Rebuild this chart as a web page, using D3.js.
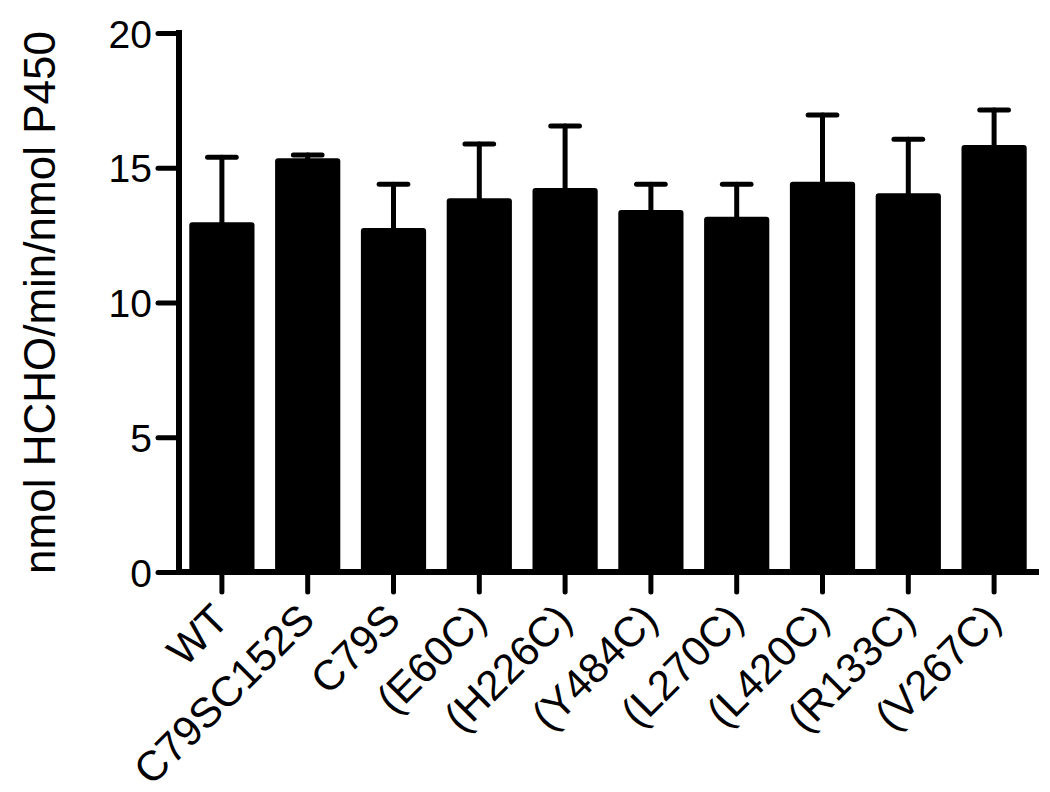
<!DOCTYPE html>
<html><head>
<meta charset="UTF-8">
<style>
  body { margin:0; background:#fff; }
  svg { display:block; font-family: 'Liberation Sans', Arial, sans-serif; }
</style>
</head><body>
<svg id="chart" width="1050" height="792"></svg>
<script src="https://cdn.jsdelivr.net/npm/d3@7/dist/d3.min.js"></script>
<script>
// values
const categories = ['WT', 'C79SC152S', 'C79S', '(E60C)', '(H226C)', '(Y484C)', '(L270C)', '(L420C)', '(R133C)', '(V267C)'];
const means = [12.98, 15.35, 12.76, 13.87, 14.25, 13.43, 13.18, 14.48, 14.05, 15.84];
const errors = [2.41, 0.12, 1.63, 2.01, 2.30, 0.96, 1.21, 2.48, 2.01, 1.30];
const yTicks = [0, 5, 10, 15, 20];
const yTitle = 'nmol HCHO/min/nmol P450';

const svg = d3.select('#chart');

const x = d3.scaleBand().domain(categories).range([179, 1037]).paddingInner(0.24).paddingOuter(0.12);
const y = d3.scaleLinear().domain([0, 20]).range([572, 33]);

const rows = categories.map((c, i) => ({ c, m: means[i], e: errors[i] }));

// error bars (upper only)
const eb = svg.append('g').attr('stroke', '#000').attr('stroke-linecap', 'round');
eb.selectAll('line.stem').data(rows).join('line').attr('class', 'stem')
  .attr('x1', d => x(d.c) + x.bandwidth() / 2).attr('x2', d => x(d.c) + x.bandwidth() / 2)
  .attr('y1', d => y(d.m)).attr('y2', d => y(d.m + d.e))
  .attr('stroke-width', 5);
eb.selectAll('line.cap').data(rows).join('line').attr('class', 'cap')
  .attr('x1', d => x(d.c) + x.bandwidth() * 0.28).attr('x2', d => x(d.c) + x.bandwidth() * 0.72)
  .attr('y1', d => y(d.m + d.e)).attr('y2', d => y(d.m + d.e))
  .attr('stroke-width', 5);

// bars
svg.append('g').selectAll('rect').data(rows).join('rect')
  .attr('x', d => x(d.c)).attr('width', x.bandwidth())
  .attr('y', d => y(d.m)).attr('height', d => y(0) - y(d.m) + 2)
  .attr('rx', 3).attr('fill', '#000');

// y axis
const yAxis = svg.append('g').attr('transform', 'translate(179,0)')
  .call(d3.axisLeft(y).tickValues(yTicks).tickSize(21).tickPadding(6).tickFormat(d3.format('d')));
yAxis.select('.domain').attr('d', `M0,${y(20)}V${y(0)}`).attr('stroke-width', 6).attr('stroke-linecap', 'square');
yAxis.selectAll('.tick line').attr('stroke-width', 5).attr('stroke-linecap', 'round');
yAxis.selectAll('.tick text').attr('font-size', 39).attr('fill', '#000').attr('dy', '0.36em');

// x axis
const xAxis = svg.append('g').attr('transform', `translate(0,${y(0)})`)
  .call(d3.axisBottom(x).tickSize(20).tickFormat(''));
xAxis.select('.domain').attr('d', 'M179,0H1036').attr('stroke-width', 6).attr('stroke-linecap', 'square');
xAxis.selectAll('.tick line').attr('stroke-width', 5).attr('stroke-linecap', 'round');

svg.append('g').selectAll('text').data(categories).join('text')
  .attr('transform', d => `translate(${x(d) + x.bandwidth() / 2 + 9},622) rotate(-45)`)
  .attr('text-anchor', 'end')
  .attr('font-size', 42)
  .attr('fill', '#000')
  .text(d => d);

// y title
svg.append('text')
  .attr('transform', `translate(55,${(y(0) + y(20)) / 2}) rotate(-90)`)
  .attr('text-anchor', 'middle')
  .attr('font-size', 44)
  .attr('fill', '#000')
  .text(yTitle);
</script>
</body></html>
